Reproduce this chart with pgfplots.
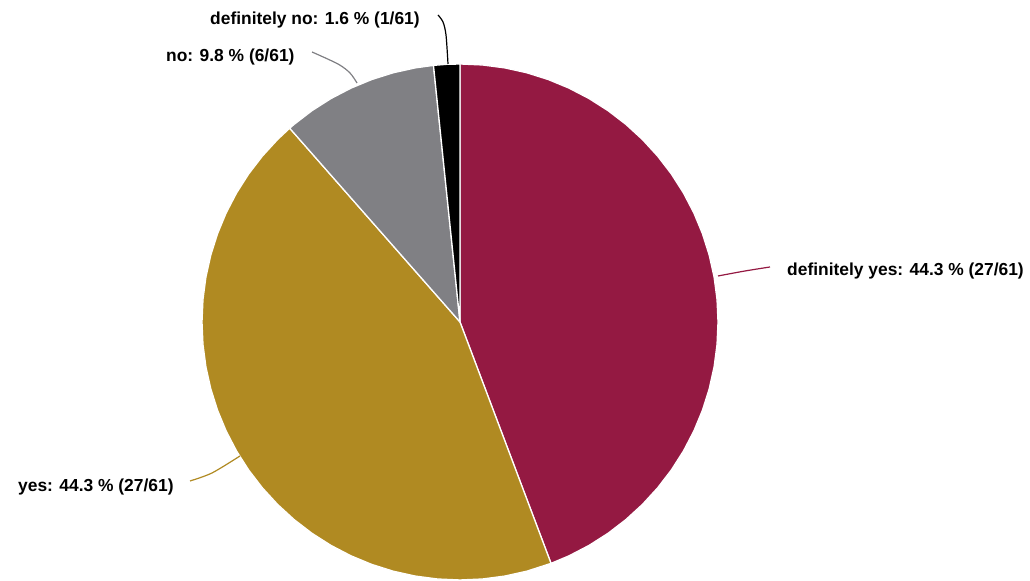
\documentclass[border=0pt]{standalone}
\usepackage{pgfplots}
\pgfplotsset{compat=1.18}
\usepackage{fontspec}
\setmainfont{Liberation Sans}
\definecolor{cDefYes}{HTML}{941942}
\definecolor{cYes}{HTML}{B08A22}
\definecolor{cNo}{HTML}{808084}
\definecolor{cDefNo}{HTML}{000000}
\tikzset{lbl/.style={font=\fontsize{17.4}{20}\selectfont\bfseries, inner sep=0pt, text=black, anchor=west}}
\begin{document}
\begin{tikzpicture}
\begin{axis}[
  scale only axis, width=1030pt, height=580pt,
  xmin=-460, xmax=570, ymin=-258, ymax=322,
  hide axis, clip=false, no markers,
]
% definitely yes: 27/61 -> 90 down to -69.34 deg
\addplot[data cs=polar, fill=cDefYes, draw=white, line width=1.3pt] coordinates {
(0,0) (90,258) (85,258) (80,258) (75,258) (70,258) (65,258) (60,258) (55,258) (50,258)
(45,258) (40,258) (35,258) (30,258) (25,258) (20,258) (15,258) (10,258) (5,258) (0,258)
(-5,258) (-10,258) (-15,258) (-20,258) (-25,258) (-30,258) (-35,258) (-40,258) (-45,258)
(-50,258) (-55,258) (-60,258) (-65,258) (-69.34,258)} -- cycle;
% yes: 27/61 -> 290.66 down to 131.31 deg
\addplot[data cs=polar, fill=cYes, draw=white, line width=1.3pt] coordinates {
(0,0) (290.66,258) (285,258) (280,258) (275,258) (270,258) (265,258) (260,258) (255,258)
(250,258) (245,258) (240,258) (235,258) (230,258) (225,258) (220,258) (215,258) (210,258)
(205,258) (200,258) (195,258) (190,258) (185,258) (180,258) (175,258) (170,258) (165,258)
(160,258) (155,258) (150,258) (145,258) (140,258) (135,258) (131.31,258)} -- cycle;
% no: 6/61 -> 131.31 down to 95.90 deg
\addplot[data cs=polar, fill=cNo, draw=white, line width=1.3pt] coordinates {
(0,0) (131.31,258) (130,258) (125,258) (120,258) (115,258) (110,258) (105,258) (100,258) (95.90,258)} -- cycle;
% definitely no: 1/61 -> 95.90 down to 90 deg
\addplot[data cs=polar, fill=cDefNo, draw=white, line width=1.3pt] coordinates {
(0,0) (95.90,258) (93,258) (90,258)} -- cycle;
% leader lines
\addplot[smooth, cDefYes, line width=1.2pt] coordinates {(258,46) (285,51) (310,55)};
\addplot[smooth, cYes, line width=1.2pt] coordinates {(-220,-134) (-248,-151) (-270,-159)};
\addplot[smooth, cNo, line width=1.2pt] coordinates {(-103,239) (-110,249) (-122,258) (-148,270)};
\addplot[smooth, cDefNo, line width=1.2pt] coordinates {(-12,258) (-14,287) (-17,300) (-22,307)};
% labels
\node[lbl] at (axis cs:327,51) {definitely yes: 44.3 \% (27/61)};
\node[lbl] at (axis cs:-442,-165) {yes: 44.3 \% (27/61)};
\node[lbl] at (axis cs:-294,265) {no: 9.8 \% (6/61)};
\node[lbl] at (axis cs:-250,302) {definitely no: 1.6 \% (1/61)};
\path (rel axis cs:0,0) (rel axis cs:1,1);
\end{axis}
\end{tikzpicture}
\end{document}
